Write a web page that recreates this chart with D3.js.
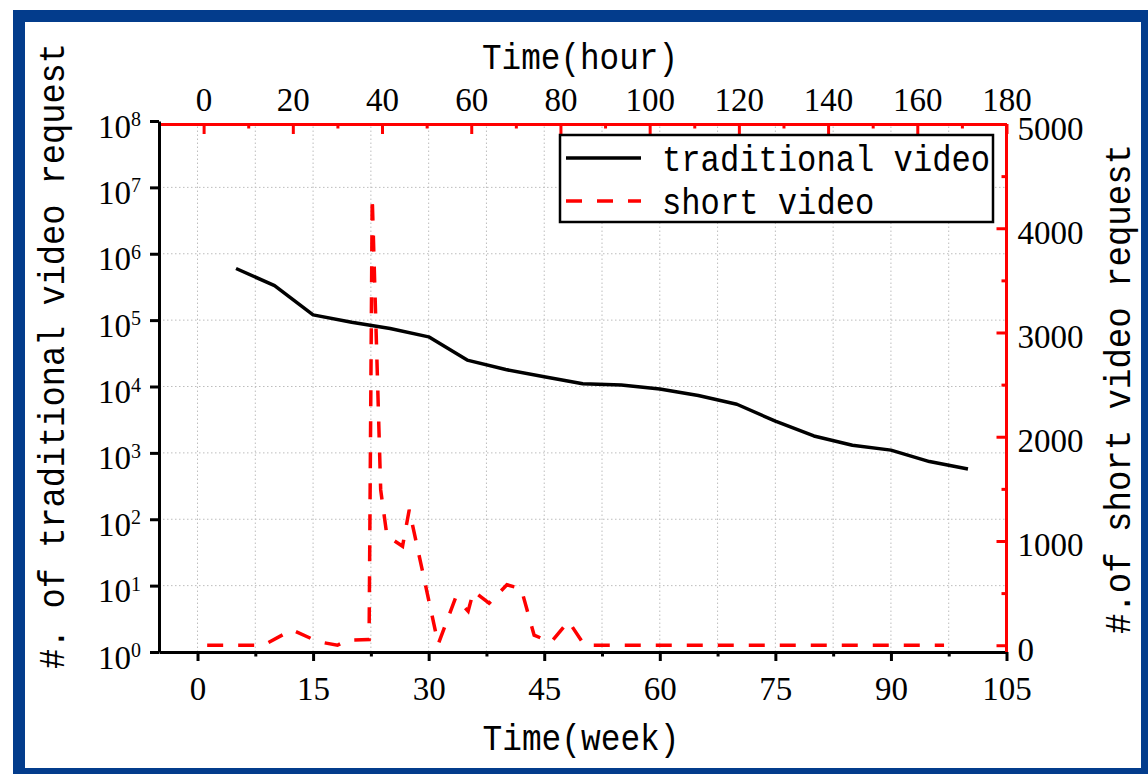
<!DOCTYPE html>
<html>
<head>
<meta charset="utf-8">
<script src="https://cdn.jsdelivr.net/npm/d3@7"></script>
<style>
	body { margin: 0; background: #fff; }
	svg { display: block; }
</style>
</head>
<body>
<div id="chart"></div>
<script>
// traditional video: one point every 5 weeks (bottom axis, log left axis)
const weeks = [5, 10, 15, 20, 25, 30, 35, 40, 45, 50, 55, 60, 65, 70, 75, 80, 85, 90, 95, 100];
const traditionalRequests = [600000, 330000, 120000, 93000, 75000, 56000, 25000, 18000, 14000, 11000,
	10500, 9200, 7300, 5400, 3000, 1800, 1300, 1100, 740, 570];

// short video: hours (top axis, linear right axis)
const hours = [0.8, 13.4, 19.8, 25.7, 30, 32.2, 37.1, 37.8, 39.7, 41.1, 44.6, 46.1, 52.6,
	56.5, 59.3, 60.5, 64, 68, 71.2, 74.1, 77.9, 81.8, 85.4, 166];
const shortRequests = [0, 0, 147, 34, 0, 48, 55, 4300, 1490, 1050, 950, 1300, 10,
	456, 326, 518, 403, 580, 542, 96, 29, 230, 0, 0];

const weekTicks = [0, 15, 30, 45, 60, 75, 90, 105];
const weekMinor = [7.5, 22.5, 37.5, 52.5, 67.5, 82.5, 97.5];
const hourTicks = [0, 20, 40, 60, 80, 100, 120, 140, 160, 180];
const hourMinor = [10, 30, 50, 70, 90, 110, 130, 150, 170];
const decadeTicks = [1, 10, 100, 1000, 10000, 100000, 1000000, 10000000, 100000000];
const shortTicks = [0, 1000, 2000, 3000, 4000, 5000];
const shortMinor = [500, 1500, 2500, 3500, 4500];

const seriesNames = ['traditional video', 'short video'];

let svgWidth = 1148
let svgHeight = 774
let plot = { 'left': 159, 'right': 1006.5, 'top': 124, 'bottom': 652 }
let red = '#ff0000'
let titleFont = "'Liberation Mono', 'DejaVu Sans Mono', monospace"
let tickFont = "'Liberation Serif', 'DejaVu Serif', serif"

let svg = d3.select('#chart').append('svg')
	.attr('width', svgWidth)
	.attr('height', svgHeight)

// frame
svg.append('rect')
	.attr('width', svgWidth).attr('height', svgHeight)
	.attr('fill', '#fff')
svg.append('rect')
	.attr('x', 13).attr('y', 10)
	.attr('width', svgWidth).attr('height', svgHeight)
	.attr('fill', '#033c8c')
svg.append('rect')
	.attr('x', 25).attr('y', 22)
	.attr('width', 1116).attr('height', 746)
	.attr('fill', '#fff')

let xWeek = d3.scaleLinear().domain([-5, 105]).range([plot.left, plot.right]);
let xHour = d3.scaleLinear().domain([-10, 180]).range([plot.left, plot.right]);
let yLog = d3.scaleLog().domain([1, 1e8]).range([plot.bottom, 121]);
let yShort = d3.scaleLinear().domain([-65, 5000]).range([plot.bottom, plot.top]);

// grid
let grid = svg.append('g')
	.attr('stroke', '#bdbdbd')
	.attr('stroke-width', 1)
	.attr('stroke-dasharray', '1.5,2.5')

grid.selectAll('.vgrid')
	.data(weekTicks.concat(weekMinor).filter(d => d < 105))
	.enter()
	.append('line')
	.attr('x1', d => xWeek(d)).attr('x2', d => xWeek(d))
	.attr('y1', plot.bottom).attr('y2', plot.top)

grid.selectAll('.hgrid')
	.data(decadeTicks.slice(1, -1))
	.enter()
	.append('line')
	.attr('x1', plot.left).attr('x2', plot.right)
	.attr('y1', d => yLog(d)).attr('y2', d => yLog(d))

// lines
let tradLine = d3.line()
	.x((d, i) => xWeek(weeks[i]))
	.y(d => yLog(d));
let shortLine = d3.line()
	.x((d, i) => xHour(hours[i]))
	.y(d => yShort(d));

svg.append('path')
	.datum(traditionalRequests)
	.attr('d', tradLine)
	.attr('fill', 'none')
	.attr('stroke', '#000')
	.attr('stroke-width', 3.5)
	.attr('stroke-linejoin', 'round')

svg.append('path')
	.datum(shortRequests)
	.attr('d', shortLine)
	.attr('fill', 'none')
	.attr('stroke', red)
	.attr('stroke-width', 3.5)
	.attr('stroke-dasharray', '16,15')

// axes
function styleAxis(g, color) {
	g.select('.domain').attr('stroke', color).attr('stroke-width', 3)
	g.selectAll('.tick line').attr('stroke', color).attr('stroke-width', 3)
	g.selectAll('text')
		.attr('fill', '#000')
		.attr('font-size', 33)
		.attr('font-family', tickFont)
}

// bottom (weeks)
svg.append('g')
	.attr('transform', `translate(0, ${plot.bottom})`)
	.call(d3.axisBottom(xWeek).tickValues(weekMinor).tickSize(4.5).tickFormat(''))
	.call(g => g.select('.domain').remove())
	.call(g => styleAxis(g, '#000'))
let bottomAxis = svg.append('g')
	.attr('transform', `translate(0, ${plot.bottom})`)
	.call(d3.axisBottom(xWeek).tickValues(weekTicks).tickSizeInner(9).tickSizeOuter(0).tickFormat(d => d))
	.call(g => styleAxis(g, '#000'))
bottomAxis.selectAll('text').attr('y', 48).attr('dy', 0)

// top (hours)
svg.append('g')
	.attr('transform', `translate(0, ${plot.top})`)
	.call(d3.axisTop(xHour).tickValues(hourMinor).tickSize(-4.5).tickFormat(''))
	.call(g => g.select('.domain').remove())
	.call(g => styleAxis(g, red))
let topAxis = svg.append('g')
	.attr('transform', `translate(0, ${plot.top})`)
	.call(d3.axisTop(xHour).tickValues(hourTicks).tickSizeInner(-10).tickSizeOuter(0).tickFormat(d => d))
	.call(g => styleAxis(g, red))
topAxis.selectAll('text').attr('y', -13).attr('dy', 0)

// right (short video)
svg.append('g')
	.attr('transform', `translate(${plot.right}, 0)`)
	.call(d3.axisRight(yShort).tickValues(shortMinor).tickSize(-5).tickFormat(''))
	.call(g => g.select('.domain').remove())
	.call(g => styleAxis(g, red))
let rightAxis = svg.append('g')
	.attr('transform', `translate(${plot.right}, 0)`)
	.call(d3.axisRight(yShort).tickValues(shortTicks).tickSizeInner(-10).tickSizeOuter(0).tickFormat(d => d))
	.call(g => styleAxis(g, red))
rightAxis.select('.domain').attr('d', `M0,${plot.top}V${plot.bottom}`)
rightAxis.selectAll('text').attr('x', 11).attr('dy', 0).attr('y', 15)

// left (traditional, log)
let leftAxis = svg.append('g')
	.attr('transform', `translate(${plot.left}, 0)`)
	.call(d3.axisLeft(yLog).tickValues(decadeTicks).tickSizeInner(9).tickSizeOuter(0).tickFormat(''))
	.call(g => styleAxis(g, '#000'))

let leftLabels = svg.append('g')
	.selectAll('text')
	.data(decadeTicks)
	.enter()
	.append('text')
	.attr('x', 141)
	.attr('y', d => yLog(d) + 16.5)
	.attr('text-anchor', 'end')
	.attr('font-family', tickFont)
	.attr('font-size', 33)
leftLabels.append('tspan').text('10')
leftLabels.append('tspan')
	.attr('font-size', 20)
	.attr('dy', -11.5)
	.text(d => Math.round(Math.log10(d)))

// titles
svg.append('text')
	.attr('x', 581).attr('y', 750)
	.attr('text-anchor', 'middle')
	.attr('font-family', titleFont).attr('font-size', 37)
	.attr('textLength', 197).attr('lengthAdjust', 'spacingAndGlyphs')
	.text('Time(week)')

svg.append('text')
	.attr('x', 580).attr('y', 69)
	.attr('text-anchor', 'middle')
	.attr('font-family', titleFont).attr('font-size', 37)
	.attr('textLength', 196).attr('lengthAdjust', 'spacingAndGlyphs')
	.text('Time(hour)')

svg.append('text')
	.attr('transform', 'translate(64, 356) rotate(-90)')
	.attr('text-anchor', 'middle')
	.attr('font-family', titleFont).attr('font-size', 36)
	.attr('textLength', 626).attr('lengthAdjust', 'spacingAndGlyphs')
	.text('#. of traditional video request')

svg.append('text')
	.attr('transform', 'translate(1130, 389) rotate(-90)')
	.attr('text-anchor', 'middle')
	.attr('font-family', titleFont).attr('font-size', 37)
	.attr('textLength', 490).attr('lengthAdjust', 'spacingAndGlyphs')
	.text('#.of short video request')

// legend
let legend = svg.append('g')
	.attr('class', 'legend')

legend.append('rect')
	.attr('x', 560).attr('y', 135)
	.attr('width', 433).attr('height', 87)
	.attr('fill', '#fff')
	.attr('stroke', '#000')
	.attr('stroke-width', 2.5)

let legendItems = legend.selectAll('.item')
	.data(seriesNames)
	.enter()
	.append('g')
	.attr('class', 'item')
	.attr('transform', (d, i) => `translate(0, ${158 + i * 43})`)

legendItems.append('line')
	.attr('x1', 566).attr('x2', 641)
	.attr('stroke', (d, i) => i == 0 ? '#000' : red)
	.attr('stroke-width', 3.5)
	.attr('stroke-dasharray', (d, i) => i == 0 ? null : '16,15')

legendItems.append('text')
	.attr('x', 662).attr('y', 13)
	.attr('font-family', titleFont).attr('font-size', 37)
	.attr('textLength', d => d.length * 19.3).attr('lengthAdjust', 'spacingAndGlyphs')
	.text(d => d)
</script>
</body>
</html>
